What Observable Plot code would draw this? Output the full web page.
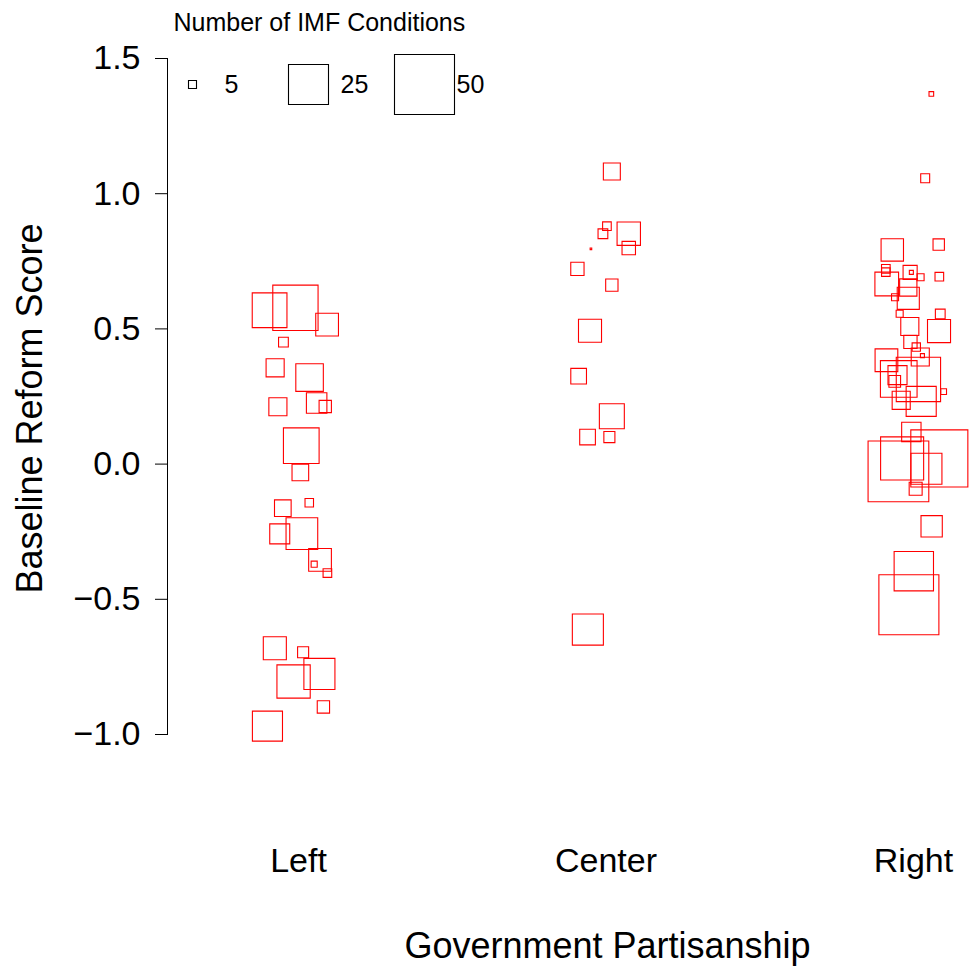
<!DOCTYPE html>
<html>
<head>
<meta charset="utf-8">
<script src="https://cdn.jsdelivr.net/npm/d3@7"></script>
<script src="https://cdn.jsdelivr.net/npm/@observablehq/plot@0.6"></script>
<style>
  html, body { margin: 0; padding: 0; background: #fff; }
  #wrap { position: relative; width: 969px; height: 973px; }
  #legend { position: absolute; left: 0; top: 0; pointer-events: none; }
</style>
</head>
<body>
<div id="wrap"><div id="main"></div><div id="legend"></div></div>
<script>
// ---- data ----
const parties = ["Left", "Center", "Right"];
const yTicks = [-1.0, -0.5, 0.0, 0.5, 1.0, 1.5];
const legendSizes = [5, 25, 50];
const legendTitle = "Number of IMF Conditions";
const xTitle = "Government Partisanship";
const yTitle = "Baseline Reform Score";

// jitter around category position, baseline reform score, number of IMF conditions
const leftJitter = [-0.094, -0.010, 0.093, -0.049, -0.076, 0.036, -0.067, 0.059, 0.087, 0.009, 0.006, -0.051, 0.035, 0.011, -0.061, 0.070, 0.051, 0.094, -0.077, 0.015, -0.016, 0.068, 0.081, -0.101];
const leftScore  = [0.569, 0.578, 0.516, 0.451, 0.356, 0.320, 0.212, 0.226, 0.213, 0.068, -0.031, -0.163, -0.143, -0.257, -0.258, -0.354, -0.370, -0.403, -0.681, -0.696, -0.804, -0.776, -0.898, -0.969];
const leftCond   = [21.7, 31.6, 14.2, 6.1, 11.3, 17.2, 11.3, 12.8, 7.7, 22.3, 10.4, 10.4, 5.3, 19.8, 12.5, 14.2, 3.8, 5.4, 14.4, 6.9, 20.8, 19.4, 7.7, 18.8];

const centerJitter = [0.019, 0.003, -0.010, 0.074, 0.074, -0.049, -0.093, 0.019, -0.052, -0.089, 0.019, -0.060, 0.011, -0.059];
const centerScore  = [1.082, 0.880, 0.852, 0.852, 0.799, 0.796, 0.722, 0.662, 0.493, 0.325, 0.177, 0.100, 0.100, -0.612];
const centerCond   = [10.6, 5.4, 6.1, 14.6, 8.4, 1.0, 8.3, 7.7, 14.4, 9.8, 15.6, 9.8, 6.9, 19.4];

const rightJitter = [0.058, 0.038, -0.069, 0.082, -0.090, -0.090, -0.011, -0.007, 0.023, 0.084, -0.087, -0.017, -0.060, -0.017, -0.045, 0.087, -0.012, 0.083, -0.010, 0.009, 0.029, 0.022, -0.088, 0.016, -0.048, -0.052, -0.061, 0.098, -0.040, 0.025, -0.007, 0.084, -0.037, -0.049, 0.042, 0.007, 0.059, 0.001, -0.015];
const rightScore  = [1.369, 1.057, 0.792, 0.812, 0.722, 0.710, 0.709, 0.709, 0.691, 0.693, 0.666, 0.653, 0.617, 0.613, 0.556, 0.555, 0.509, 0.492, 0.452, 0.433, 0.401, 0.396, 0.384, 0.313, 0.315, 0.329, 0.306, 0.268, 0.236, 0.232, 0.119, 0.021, 0.021, -0.027, -0.017, -0.091, -0.230, -0.396, -0.520];
const rightCond   = [2.9, 5.6, 14.0, 7.1, 5.4, 5.3, 8.8, 2.5, 4.4, 5.4, 14.8, 10.8, 4.4, 13.8, 4.4, 6.1, 11.3, 14.4, 8.3, 5.2, 2.5, 11.3, 14.2, 30.4, 22.9, 11.9, 7.3, 3.6, 11.3, 18.8, 12.1, 46.3, 28.8, 50.9, 19.4, 8.1, 13.3, 24.6, 50.0];

// ---- build table ----
const groups = [
  [leftJitter, leftScore, leftCond],
  [centerJitter, centerScore, centerCond],
  [rightJitter, rightScore, rightCond]
];
const points = [];
groups.forEach(([jit, sc, cond], g) => {
  jit.forEach((j, i) => points.push({party: parties[g], pos: g + 1 + j, score: sc[i], cond: cond[i]}));
});

// square symbol whose half-side equals the dot radius
const squareSymbol = {
  draw(context, size) {
    const s = Math.sqrt(size / Math.PI);
    context.moveTo(-s, -s);
    context.lineTo(s, -s);
    context.lineTo(s, s);
    context.lineTo(-s, s);
    context.closePath();
  }
};
const rScale = {type: "linear", domain: [0, 25, 50], range: [0, 20, 30]};
const font = "'Liberation Sans', Arial, Helvetica, sans-serif";

const main = Plot.plot({
  width: 969,
  height: 973,
  marginLeft: 167,
  marginTop: 58,
  marginBottom: 239,
  marginRight: 0,
  style: {fontFamily: font, background: "white", color: "black"},
  x: {type: "linear", domain: [1, 3], range: [298, 913]},
  y: {domain: [-1, 1.5]},
  r: rScale,
  marks: [
    Plot.frame({anchor: "left", stroke: "black", strokeWidth: 1}),
    Plot.axisY({ticks: yTicks, tickFormat: d3.format(".1f"), tickSize: 12, tickPadding: 15, fontSize: 34, label: null, stroke: "black", strokeWidth: 1}),
    Plot.axisX({ticks: [1, 2, 3], tickFormat: d => parties[d - 1], tickSize: 0, tickPadding: 113, fontSize: 34, label: null}),
    Plot.dot(points, {x: "pos", y: "score", r: "cond", symbol: squareSymbol, fill: "none", stroke: "#ff0000", strokeWidth: 1.1}),
    Plot.text([yTitle], {frameAnchor: "left", textAnchor: "middle", lineAnchor: "middle", rotate: -90, dx: -137, dy: 12, fontSize: 36, fill: "black"}),
    Plot.text([xTitle], {frameAnchor: "bottom", textAnchor: "middle", lineAnchor: "middle", dx: 39, dy: 212, fontSize: 36, fill: "black"})
  ]
});
document.getElementById("main").appendChild(main);

const legend = Plot.plot({
  width: 520,
  height: 168,
  margin: 0,
  style: {fontFamily: font, background: "transparent", color: "black"},
  x: {type: "point", domain: legendSizes, range: [191, 424], padding: 0, axis: null},
  r: rScale,
  marks: [
    Plot.dot(legendSizes, {x: d => d, r: d => d, symbol: squareSymbol, fill: "none", stroke: "black", strokeWidth: 1.1}),
    Plot.text(legendSizes, {x: d => d, text: d => String(d), dx: 32, textAnchor: "start", lineAnchor: "middle", fontSize: 25, fill: "black"}),
    Plot.text([legendTitle], {frameAnchor: "top-left", dx: 173, dy: 22, textAnchor: "start", lineAnchor: "middle", fontSize: 25, fill: "black"})
  ]
});
document.getElementById("legend").appendChild(legend);
</script>
</body>
</html>
